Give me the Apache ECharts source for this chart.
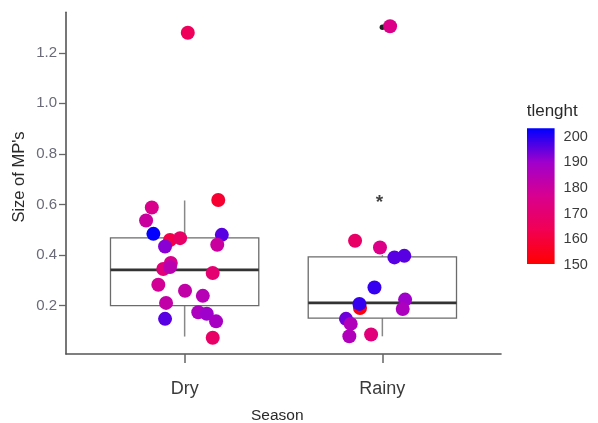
<!DOCTYPE html>
<html>
<head>
<meta charset="utf-8">
<script src="https://cdn.jsdelivr.net/npm/echarts@6/dist/echarts.min.js"></script>
<style>
  html, body { margin: 0; padding: 0; background: #fff; }
  #chart { width: 598px; height: 423px; }
</style>
</head>
<body>
<div id="chart"></div>
<script>
// Categories on the x axis
const seasons = ['Dry', 'Rainy'];

// Jittered observations: horizontal offset from the category centre, size, and tlenght
const dryJitter = [0.170, -0.166, -0.195, -0.158, -0.074, -0.023, 0.188, -0.099, 0.165, -0.070, -0.108, -0.074, 0.142, -0.133, 0.002, 0.092, -0.094, -0.099, 0.069, 0.112, 0.159, 0.142, 0.016];
const drySize   = [0.618, 0.588, 0.537, 0.484, 0.460, 0.467, 0.480, 0.434, 0.441, 0.369, 0.345, 0.353, 0.329, 0.283, 0.259, 0.239, 0.211, 0.148, 0.174, 0.168, 0.138, 0.073, 1.279];
const dryLength = [158, 176, 180, 203, 162, 168, 196, 192, 180, 176, 172, 184, 170, 178, 182, 185, 182, 196, 187, 190, 188, 168, 165];

const rainyJitter = [-0.138, -0.012, 0.061, 0.111, -0.040, -0.113, -0.116, 0.115, 0.103, -0.184, -0.160, -0.167, -0.057, 0.039];
const rainySize   = [0.457, 0.430, 0.391, 0.397, 0.272, 0.191, 0.207, 0.224, 0.187, 0.148, 0.128, 0.079, 0.086, 1.305];
const rainyLength = [168, 175, 196, 196, 199, 152, 199, 190, 187, 194, 186, 186, 172, 175];

// Box plot summaries per season
const boxLow    = [0.078, 0.079];
const boxQ1     = [0.200, 0.151];
const boxMedian = [0.342, 0.211];
const boxQ3     = [0.468, 0.393];
const boxHigh   = [0.616, 0.400];
const outlierSize = [1.279, 1.301];

// Significance marker above the Rainy group
const starMark = [1.985, 0.625];

// Axis ticks
const sizeTicks = [0.2, 0.4, 0.6, 0.8, 1.0, 1.2];
const lengthTicks = [150, 160, 170, 180, 190, 200];
const lengthMin = 150, lengthMax = 203.3;

// Red-to-blue gradient stops
const rampColors = ['#FF0000', '#F20052', '#D8008F', '#A000CC', '#0000FF'];

const FONT = 'Liberation Sans, Arial, sans-serif';

const points = [];
dryJitter.forEach((j, i) => points.push([1 + j, drySize[i], dryLength[i]]));
rainyJitter.forEach((j, i) => points.push([2 + j, rainySize[i], rainyLength[i]]));

const boxes = seasons.map((s, i) => [i + 1, boxLow[i], boxQ1[i], boxMedian[i], boxQ3[i], boxHigh[i]]);
const outliers = seasons.map((s, i) => [i + 1, outlierSize[i]]);

const chart = echarts.init(document.getElementById('chart'), null, { renderer: 'canvas' });

function renderBox(params, api) {
  const x = api.value(0);
  const lo = api.coord([x, api.value(1)]);
  const q1 = api.coord([x, api.value(2)]);
  const md = api.coord([x, api.value(3)]);
  const q3 = api.coord([x, api.value(4)]);
  const hi = api.coord([x, api.value(5)]);
  const half = api.size([0.75, 0])[0] / 2;
  const cx = lo[0];
  return {
    type: 'group',
    children: [
      { type: 'line', shape: { x1: cx, y1: lo[1], x2: cx, y2: q1[1] }, style: { stroke: '#888', lineWidth: 1.5 } },
      { type: 'line', shape: { x1: cx, y1: q3[1], x2: cx, y2: hi[1] }, style: { stroke: '#888', lineWidth: 1.5 } },
      { type: 'rect', shape: { x: cx - half, y: q3[1], width: half * 2, height: q1[1] - q3[1] }, style: { stroke: '#6b6b6b', lineWidth: 1.3, fill: '#fff' } },
      { type: 'line', shape: { x1: cx - half, y1: md[1], x2: cx + half, y2: md[1] }, style: { stroke: '#333', lineWidth: 2.8 } }
    ]
  };
}

const option = {
  backgroundColor: '#fff',
  animation: false,
  grid: [
    { left: 66, right: 97, top: 12.3, bottom: 69, containLabel: false },
    { left: 527, top: 128.3, width: 27.6, height: 136.7, containLabel: false }
  ],
  xAxis: [
    {
      type: 'value', gridIndex: 0, min: 0.4, max: 2.6,
      splitLine: { show: false },
      axisLine: { show: true, onZero: false, lineStyle: { color: '#555', width: 1.6 } },
      axisTick: { show: true, customValues: [1, 2], length: 9, lineStyle: { color: '#666', width: 1.5 } },
      axisLabel: {
        customValues: [1, 2], margin: 26,
        formatter: v => seasons[Math.round(v) - 1] || '',
        fontFamily: FONT, fontSize: 18, color: '#3a3a3a'
      }
    },
    { type: 'value', gridIndex: 1, min: 0, max: 1, show: false }
  ],
  yAxis: [
    {
      type: 'value', gridIndex: 0, min: 0.009, max: 1.36,
      splitLine: { show: false },
      axisLine: { show: true, onZero: false, lineStyle: { color: '#555', width: 1.6 } },
      axisTick: { show: true, customValues: sizeTicks, length: 7, lineStyle: { color: '#666', width: 1.3 } },
      axisLabel: {
        customValues: sizeTicks, margin: 9,
        formatter: v => v.toFixed(1),
        fontFamily: FONT, fontSize: 15, color: '#6a6a78'
      }
    },
    {
      type: 'value', gridIndex: 1, position: 'left', min: lengthMin, max: lengthMax,
      splitLine: { show: false }, axisLine: { show: false },
      axisTick: { show: true, inside: true, customValues: lengthTicks, length: 5, lineStyle: { color: '#fff', width: 1.2 } },
      axisLabel: { show: false }
    },
    {
      type: 'value', gridIndex: 1, position: 'right', min: lengthMin, max: lengthMax,
      splitLine: { show: false }, axisLine: { show: false },
      axisTick: { show: true, inside: true, customValues: lengthTicks, length: 5, lineStyle: { color: '#fff', width: 1.2 } },
      axisLabel: { customValues: lengthTicks, margin: 9, fontFamily: FONT, fontSize: 14.5, color: '#3a3a3a' }
    }
  ],
  visualMap: {
    type: 'continuous', show: false, min: lengthMin, max: lengthMax,
    dimension: 2, seriesIndex: 2,
    inRange: { color: rampColors }
  },
  graphic: [
    {
      type: 'rect', z: 1, silent: true,
      shape: { x: 527, y: 128.3, width: 27.6, height: 135.7 },
      style: { fill: new echarts.graphic.LinearGradient(0, 1, 0, 0, rampColors.map((c, i) => ({ offset: i / (rampColors.length - 1), color: c }))) }
    },
    {
      type: 'text', x: 526.7, y: 111.7,
      style: { text: 'tlenght', font: '17px ' + FONT, fill: '#2a2a2a', verticalAlign: 'middle', align: 'left' }
    },
    {
      type: 'text', x: 277.3, y: 416,
      style: { text: 'Season', font: '15.5px ' + FONT, fill: '#2a2a2a', verticalAlign: 'middle', align: 'center' }
    },
    {
      type: 'text', x: 19.5, y: 177, rotation: Math.PI / 2,
      style: { text: "Size of MP's", font: '16.5px ' + FONT, fill: '#2a2a2a', verticalAlign: 'middle', align: 'center' }
    }
  ],
  series: [
    {
      type: 'custom', xAxisIndex: 0, yAxisIndex: 0, z: 2,
      renderItem: renderBox,
      encode: { x: 0, y: [1, 2, 3, 4, 5] },
      data: boxes
    },
    {
      type: 'scatter', xAxisIndex: 0, yAxisIndex: 0, z: 3,
      symbolSize: 5.5,
      itemStyle: { color: '#222', opacity: 1 },
      data: outliers
    },
    {
      type: 'scatter', xAxisIndex: 0, yAxisIndex: 0, z: 4,
      symbolSize: 14,
      itemStyle: { opacity: 1 },
      data: points
    },
    {
      type: 'scatter', xAxisIndex: 0, yAxisIndex: 0, z: 5,
      symbolSize: 1, itemStyle: { color: 'rgba(0,0,0,0)' },
      label: {
        show: true, position: 'inside', formatter: '*', offset: [0, 5],
        fontFamily: FONT, fontSize: 19, fontWeight: 'bold', color: '#111'
      },
      data: [starMark]
    }
  ]
};

chart.setOption(option);
</script>
</body>
</html>
